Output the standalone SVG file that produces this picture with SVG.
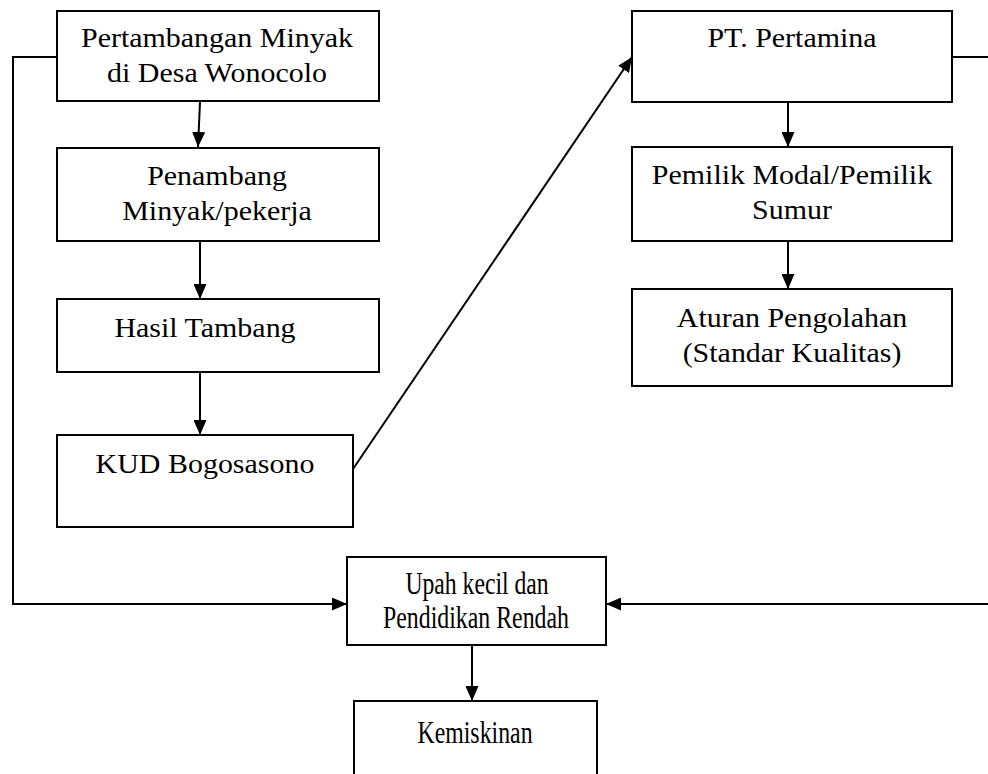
<svg xmlns="http://www.w3.org/2000/svg" width="988" height="774" viewBox="0 0 988 774">
<defs>
<marker id="ah" viewBox="0 0 15 13" refX="15" refY="6.5" markerWidth="15" markerHeight="13" markerUnits="userSpaceOnUse" orient="auto">
<path d="M0,0 L15,6.5 L0,13 Z" fill="#000"/>
</marker>
</defs>
<style>
.box{fill:#fff;stroke:#000;stroke-width:2}
.c{fill:none;stroke:#000;stroke-width:2}
.a{marker-end:url(#ah)}
.top{font-size:28px}
.bot{font-size:32px}
</style>
<rect width="988" height="774" fill="#fff"/>
<g id="connectors">
<path class="c a" d="M57,57 H13 V604 H347"/>
<path class="c a" d="M952,57 H992 V604 H606"/>
<line class="c a" x1="200" y1="102" x2="198" y2="147"/>
<line class="c a" x1="200" y1="241" x2="200" y2="299"/>
<line class="c a" x1="200" y1="372" x2="200" y2="435"/>
<line class="c a" x1="353" y1="469" x2="632" y2="57"/>
<line class="c a" x1="788" y1="102" x2="788" y2="147"/>
<line class="c a" x1="788" y1="241" x2="788" y2="289"/>
<line class="c a" x1="472" y1="645" x2="472" y2="701"/>
</g>
<g font-family="Liberation Serif, Times New Roman, serif" fill="#000" text-anchor="middle">
<g id="n1"><rect class="box" x="57" y="11" width="322" height="90"/>
<text class="top" transform="matrix(1.07,0,0,1,217,47)">Pertambangan Minyak</text><text class="top" transform="matrix(1.07,0,0,1,217,82)">di Desa Wonocolo</text></g>
<g id="n2"><rect class="box" x="57" y="148" width="322" height="93"/>
<text class="top" transform="matrix(1.07,0,0,1,217,185)">Penambang</text><text class="top" transform="matrix(1.07,0,0,1,217,220)">Minyak/pekerja</text></g>
<g id="n3"><rect class="box" x="57" y="299" width="322" height="73"/>
<text class="top" transform="matrix(1.07,0,0,1,205,337)">Hasil Tambang</text></g>
<g id="n4"><rect class="box" x="57" y="435" width="296" height="92"/>
<text class="top" transform="matrix(1.07,0,0,1,205,473)">KUD Bogosasono</text></g>
<g id="n5"><rect class="box" x="632" y="11" width="320" height="91"/>
<text class="top" transform="matrix(1.07,0,0,1,792,47)">PT. Pertamina</text></g>
<g id="n6"><rect class="box" x="632" y="147" width="320" height="94"/>
<text class="top" transform="matrix(1.07,0,0,1,792,184)">Pemilik Modal/Pemilik</text><text class="top" transform="matrix(1.07,0,0,1,792,219)">Sumur</text></g>
<g id="n7"><rect class="box" x="632" y="289" width="320" height="97"/>
<text class="top" transform="matrix(1.07,0,0,1,792,327)">Aturan Pengolahan</text><text class="top" transform="matrix(1.07,0,0,1,792,362)">(Standar Kualitas)</text></g>
<g id="n8"><rect class="box" x="347" y="557" width="259" height="88"/>
<text class="bot" transform="matrix(0.74,0,0,1,477,594)">Upah kecil dan</text><text class="bot" transform="matrix(0.745,0,0,1,476,628)">Pendidikan Rendah</text></g>
<g id="n9"><rect class="box" x="354" y="701" width="243" height="90"/>
<text class="bot" transform="matrix(0.745,0,0,1,475,743)">Kemiskinan</text></g>
</g>
</svg>
